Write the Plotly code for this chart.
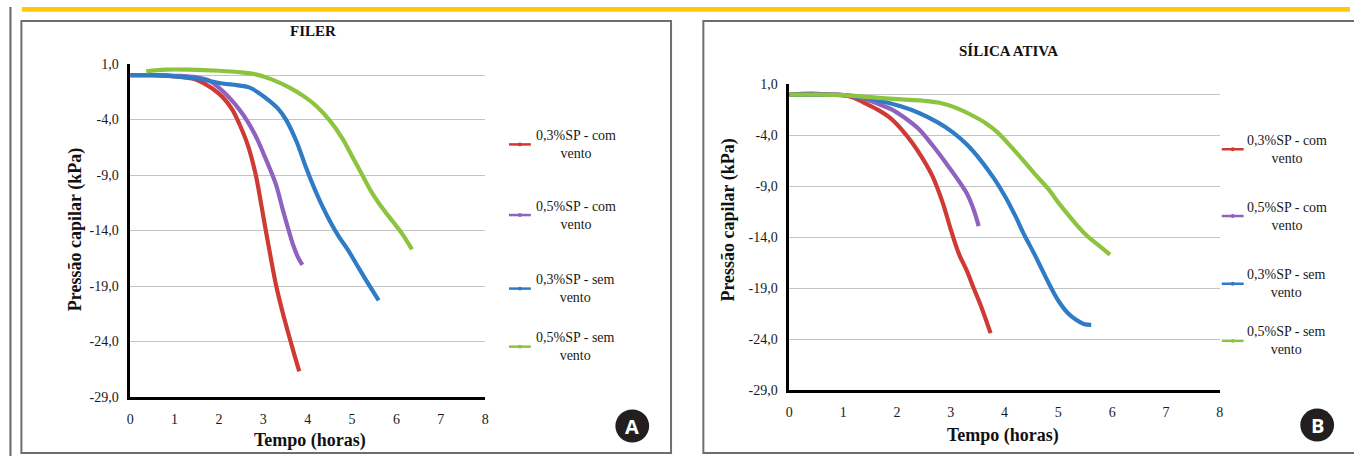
import plotly.graph_objects as go

W, H = 1354, 464

series_names = ["0,3%SP - com<br>vento", "0,5%SP - com<br>vento",
                "0,3%SP - sem<br>vento", "0,5%SP - sem<br>vento"]
colors = ["#CF3A35", "#8E62BE", "#2F7CC6", "#8CC43F"]

# Panel A - FILER
a_red_x = [0, 0.5, 1.0, 1.4, 1.63, 1.85, 2.08, 2.3, 2.46, 2.65, 2.83, 2.95, 3.06, 3.17, 3.28, 3.43, 3.58, 3.70, 3.81]
a_red_y = [0.0, 0.0, -0.1, -0.3, -0.66, -1.2, -1.97, -3.1, -4.4, -6.3, -9.0, -11.6, -14.1, -16.5, -18.8, -21.3, -23.5, -25.2, -26.7]
a_pur_x = [0, 0.5, 1.0, 1.5, 1.78, 2.1, 2.46, 2.65, 2.83, 3.05, 3.28, 3.43, 3.58, 3.68, 3.78, 3.88]
a_pur_y = [0.0, 0.0, -0.05, -0.2, -0.5, -1.5, -3.1, -4.2, -5.5, -7.5, -9.8, -12.0, -14.1, -15.4, -16.4, -17.1]
a_blu_x = [0, 0.5, 1.0, 1.5, 2.08, 2.4, 2.68, 2.9, 3.13, 3.35, 3.51, 3.75, 3.96, 4.15, 4.33, 4.52, 4.71, 4.9, 5.08, 5.35, 5.6]
a_blu_y = [0.0, 0.0, -0.1, -0.3, -0.75, -0.9, -1.1, -1.6, -2.3, -3.1, -4.0, -6.0, -8.3, -10.2, -11.8, -13.3, -14.6, -15.7, -16.9, -18.7, -20.3]
a_grn_x = [0.36, 0.8, 1.33, 2.0, 2.5, 2.83, 3.2, 3.58, 3.95, 4.2, 4.5, 4.78, 5.0, 5.23, 5.45, 5.67, 5.9, 6.13, 6.35]
a_grn_y = [0.35, 0.5, 0.5, 0.4, 0.25, 0.07, -0.4, -1.1, -2.0, -2.8, -4.1, -5.7, -7.3, -9.0, -10.6, -11.9, -13.1, -14.3, -15.7]

# Panel B - SILICA ATIVA
b_red_x = [0, 0.4, 0.8, 1.0, 1.2, 1.39, 1.65, 1.9, 2.1, 2.28, 2.47, 2.66, 2.85, 3.01, 3.15, 3.30, 3.42, 3.58, 3.74]
b_red_y = [0.0, 0.1, 0.0, -0.05, -0.3, -0.8, -1.5, -2.4, -3.5, -4.7, -6.2, -8.0, -10.6, -13.4, -15.6, -17.3, -18.9, -21.0, -23.4]
b_pur_x = [0, 0.5, 1.0, 1.32, 1.6, 1.9, 2.15, 2.41, 2.65, 2.91, 3.1, 3.3, 3.42, 3.52]
b_pur_y = [0.0, 0.0, -0.05, -0.3, -0.8, -1.45, -2.3, -3.4, -4.9, -6.7, -8.1, -9.7, -11.2, -12.9]
b_blu_x = [0, 0.5, 1.0, 1.4, 1.83, 2.1, 2.41, 2.75, 3.04, 3.3, 3.55, 3.8, 4.0, 4.2, 4.37, 4.55, 4.69, 4.85, 5.01, 5.17, 5.33, 5.47, 5.61]
b_blu_y = [0.0, 0.0, -0.05, -0.3, -0.8, -1.2, -1.8, -2.7, -3.7, -4.9, -6.4, -8.2, -9.9, -11.9, -13.8, -15.6, -17.1, -18.8, -20.3, -21.4, -22.1, -22.5, -22.6]
b_grn_x = [0, 0.5, 1.0, 1.5, 2.15, 2.5, 2.79, 3.1, 3.42, 3.65, 3.87, 4.12, 4.37, 4.6, 4.82, 5.0, 5.2, 5.36, 5.52, 5.75, 5.96]
b_grn_y = [0.0, 0.0, -0.05, -0.25, -0.5, -0.6, -0.8, -1.3, -2.1, -2.8, -3.7, -5.1, -6.6, -8.0, -9.3, -10.6, -11.9, -12.9, -13.8, -14.8, -15.7]

y_ticks = [1, -4, -9, -14, -19, -24, -29]
y_tick_labels = ["1,0", "-4,0", "-9,0", "-14,0", "-19,0", "-24,0", "-29,0"]
x_ticks = [0, 1, 2, 3, 4, 5, 6, 7, 8]

panel_a = [(a_red_x, a_red_y), (a_pur_x, a_pur_y), (a_blu_x, a_blu_y), (a_grn_x, a_grn_y)]
panel_b = [(b_red_x, b_red_y), (b_pur_x, b_pur_y), (b_blu_x, b_blu_y), (b_grn_x, b_grn_y)]


def px(x):
    return x / W


def py(y):
    return 1 - y / H


SERIF = "Liberation Serif, Times New Roman, serif"

fig = go.Figure()
for (xs, ys), c, n in zip(panel_a, colors, series_names):
    fig.add_trace(go.Scatter(x=xs, y=ys, mode="lines", name=n,
                             line=dict(color=c, width=4.2, shape="spline", smoothing=1.0),
                             xaxis="x", yaxis="y", showlegend=False))
for (xs, ys), c, n in zip(panel_b, colors, series_names):
    fig.add_trace(go.Scatter(x=xs, y=ys, mode="lines", name=n,
                             line=dict(color=c, width=4.2, shape="spline", smoothing=1.0),
                             xaxis="x2", yaxis="y2", showlegend=False))

axis_common_x = dict(range=[0, 8], tickvals=x_ticks, showgrid=False, zeroline=False,
                     showline=True, linecolor="black", linewidth=2.5, ticks="",
                     ticklabelstandoff=7,
                     tickfont=dict(family=SERIF, size=14, color="#1a1a1a"), fixedrange=True)
axis_common_y = dict(range=[-29, 1], tickvals=y_ticks, ticktext=y_tick_labels,
                     showgrid=True, gridcolor="#C4C4C4", gridwidth=1,
                     zeroline=True, zerolinecolor="#C4C4C4", zerolinewidth=1,
                     showline=True, linecolor="black", linewidth=2.5, ticks="",
                     ticklabelstandoff=6,
                     tickfont=dict(family=SERIF, size=14, color="#1a1a1a"), fixedrange=True)

fig.update_layout(
    width=W, height=H, margin=dict(l=0, r=0, t=0, b=0),
    paper_bgcolor="white", plot_bgcolor="white", showlegend=False,
    xaxis=dict(domain=[px(127), px(484)], anchor="y", **axis_common_x),
    yaxis=dict(domain=[py(403), py(59)], anchor="x", **axis_common_y),
    xaxis2=dict(domain=[px(790), px(1223)], anchor="y2", **axis_common_x),
    yaxis2=dict(domain=[py(396), py(80)], anchor="x2", **axis_common_y),
)

shapes = []
# outer decorations
shapes.append(dict(type="rect", xref="paper", yref="paper", x0=px(18), x1=1, y0=py(5), y1=1,
                   fillcolor="#FFC907", line=dict(width=0), layer="below"))
shapes.append(dict(type="line", xref="paper", yref="paper", x0=px(6.5), x1=px(6.5), y0=0, y1=1,
                   line=dict(color="#666", width=2)))
# panel borders
shapes.append(dict(type="rect", xref="paper", yref="paper", x0=px(17.5), x1=px(671), y0=py(461), y1=py(14.5),
                   line=dict(color="#6E6E6E", width=2), layer="below"))
shapes.append(dict(type="rect", xref="paper", yref="paper", x0=px(703.5), x1=px(1360), y0=py(461), y1=py(14.5),
                   line=dict(color="#6E6E6E", width=2), layer="below"))
# circle badges
for cx, cy in [(632, 433), (1321, 432)]:
    shapes.append(dict(type="circle", xref="paper", yref="paper", x0=px(cx - 17), x1=px(cx + 17),
                       y0=py(cy + 17), y1=py(cy - 17), fillcolor="#231F20", line=dict(width=0)))

annotations = []
for lab, cx, cy in [("A", 632, 433), ("B", 1321, 432)]:
    annotations.append(dict(text="<b>" + lab + "</b>", x=px(cx), y=py(cy), xref="paper", yref="paper",
                            showarrow=False, font=dict(family="Open Sans, Arial, sans-serif", size=20, color="white"),
                            xanchor="center", yanchor="middle"))

# titles
annotations.append(dict(text="<b>FILER</b>", x=px(311), y=py(25), xref="paper", yref="paper", showarrow=False,
                        font=dict(family=SERIF, size=15, color="#111"), xanchor="center", yanchor="middle"))
annotations.append(dict(text="<b>SÍLICA ATIVA</b>", x=px(1010), y=py(45), xref="paper", yref="paper", showarrow=False,
                        font=dict(family=SERIF, size=15, color="#111"), xanchor="center", yanchor="middle"))
# axis titles
for xt, yt in [(308, 448), (1005, 443)]:
    annotations.append(dict(text="<b>Tempo (horas)</b>", x=px(xt), y=py(yt), xref="paper", yref="paper",
                            showarrow=False, font=dict(family=SERIF, size=18, color="#111"),
                            xanchor="center", yanchor="middle"))
for xt, yt in [(72, 230), (729, 220)]:
    annotations.append(dict(text="<b>Pressão capilar (kPa)</b>", x=px(xt), y=py(yt), xref="paper", yref="paper",
                            showarrow=False, textangle=-90, font=dict(family=SERIF, size=18, color="#111"),
                            xanchor="center", yanchor="middle"))

# legends
legend_a = dict(x0=508, x1=530, tx=533, ys=[142, 215, 291, 351])
legend_b = dict(x0=1225, x1=1247, tx=1248, ys=[147, 216, 286, 345])
for lg in (legend_a, legend_b):
    for yv, c, n in zip(lg["ys"], colors, series_names):
        shapes.append(dict(type="line", xref="paper", yref="paper", x0=px(lg["x0"]), x1=px(lg["x1"]),
                           y0=py(yv), y1=py(yv), line=dict(color=c, width=2.5)))
        shapes.append(dict(type="circle", xref="paper", yref="paper",
                           x0=px((lg["x0"] + lg["x1"]) / 2 - 2), x1=px((lg["x0"] + lg["x1"]) / 2 + 2),
                           y0=py(yv + 2), y1=py(yv - 2), fillcolor=c, line=dict(width=0)))
        annotations.append(dict(text=n, x=px(lg["tx"]), y=py(yv), xref="paper", yref="paper", showarrow=False,
                                align="center", xanchor="left", yanchor="middle",
                                font=dict(family=SERIF, size=14, color="#1a1a1a")))

fig.update_layout(shapes=shapes, annotations=annotations)
fig.write_html("out.html")
